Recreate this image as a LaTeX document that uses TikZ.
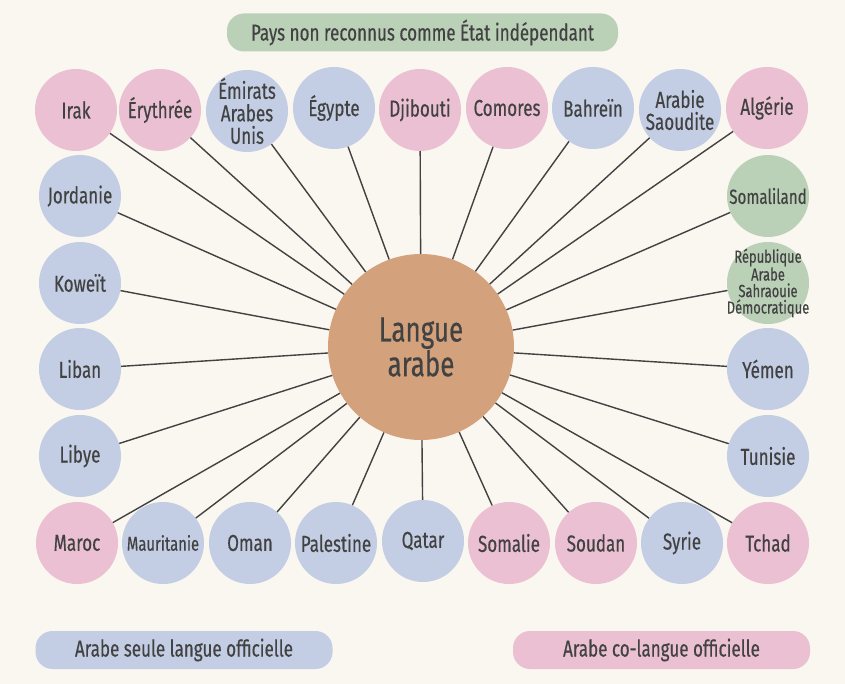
\documentclass[tikz,border=0pt]{standalone}
\usepackage{fontspec}
\setmainfont{Fira Sans}[FakeStretch=0.74, FakeBold=0.4]
\usepackage{tikz}
\definecolor{fond}{RGB}{250,246,240}
\definecolor{seule}{RGB}{195,206,228}
\definecolor{colangue}{RGB}{235,192,210}
\definecolor{nonreconnu}{RGB}{186,208,183}
\definecolor{arabe}{RGB}{211,162,124}
\definecolor{encre}{RGB}{66,66,66}

\begin{document}
\begin{tikzpicture}[x=1pt, y=-1pt, text=encre,
  pays/.style={circle, minimum size=82pt, inner sep=0pt, align=center, font=\fontsize{23}{22}\selectfont},
  paysseul/.style={pays, fill=seule},
  paysco/.style={pays, fill=colangue},
  paysnr/.style={pays, fill=nonreconnu},
  serre/.style={inner sep=-20pt},
  legende/.style={rounded corners=17pt, minimum height=38pt, inner sep=0pt, font=\fontsize{23}{24}\selectfont},
  lien/.style={draw=encre, line width=1.4pt}]
% background
\fill[fond] (0,0) rectangle (845,684);
% centre
\node[circle, fill=arabe, minimum size=186pt, inner sep=0pt, align=center, font=\fontsize{35}{33}\selectfont] (langue) at (421,347) {Langue\\arabe};
% top row
\node[paysco] (irak) at (76,110) {Irak};
\node[paysco] (erythree) at (160,110) {Érythrée};
\node[paysseul, serre, font=\fontsize{23}{22.5}\selectfont] (emirats) at (247,111) {Émirats\\Arabes\\Unis};
\node[paysseul] (egypte) at (334,108) {Égypte};
\node[paysco] (djibouti) at (420,110) {Djibouti};
\node[paysco] (comores) at (507,108) {Comores};
\node[paysseul] (bahrein) at (593,108) {Bahreïn};
\node[paysseul, serre] (arabie) at (680,110) {Arabie\\Saoudite};
\node[paysco] (algerie) at (767,108) {Algérie};
% left column
\node[paysseul] (jordanie) at (80,196) {Jordanie};
\node[paysseul] (koweit) at (80,283) {Koweït};
\node[paysseul] (liban) at (80,369) {Liban};
\node[paysseul] (libye) at (80,456) {Libye};
% bottom row
\node[paysco] (maroc) at (77,543) {Maroc};
\node[paysseul, font=\fontsize{20}{21}\selectfont] (mauritanie) at (163,543) {Mauritanie};
\node[paysseul] (oman) at (250,543) {Oman};
\node[paysseul] (palestine) at (336,543) {Palestine};
\node[paysseul] (qatar) at (423,541) {Qatar};
\node[paysco] (somalie) at (509,543) {Somalie};
\node[paysco] (soudan) at (596,543) {Soudan};
\node[paysseul] (syrie) at (682,543) {Syrie};
\node[paysco] (tchad) at (768,543) {Tchad};
% right column
\node[paysnr, font=\fontsize{20.5}{21}\selectfont] (somaliland) at (768,196) {Somaliland};
\node[paysnr, serre, font=\fontsize{17.5}{16.5}\selectfont] (rasd) at (768,283) {République\\Arabe\\Sahraouie\\Démocratique};
\node[paysseul] (yemen) at (768,369) {Yémen};
\node[paysseul] (tunisie) at (768,456) {Tunisie};

% links
\path[lien] (langue) -- (irak) (langue) -- (erythree) (langue) -- (emirats)
  (langue) -- (egypte) (langue) -- (djibouti) (langue) -- (comores)
  (langue) -- (bahrein) (langue) -- (arabie) (langue) -- (algerie)
  (langue) -- (jordanie) (langue) -- (koweit) (langue) -- (liban)
  (langue) -- (libye) (langue) -- (maroc) (langue) -- (mauritanie)
  (langue) -- (oman) (langue) -- (palestine) (langue) -- (qatar)
  (langue) -- (somalie) (langue) -- (soudan) (langue) -- (syrie)
  (langue) -- (tchad) (langue) -- (somaliland) (langue) -- (rasd)
  (langue) -- (yemen) (langue) -- (tunisie);

% legend
\node[legende, fill=nonreconnu, minimum width=391pt] (legnr) at (422.5,32.5) {Pays non reconnus comme État indépendant};
\node[legende, fill=seule, minimum width=297pt] (legseule) at (184,650) {Arabe seule langue officielle};
\node[legende, fill=colangue, minimum width=297pt] (legco) at (661.5,650) {Arabe co-langue officielle};
\end{tikzpicture}
\end{document}
